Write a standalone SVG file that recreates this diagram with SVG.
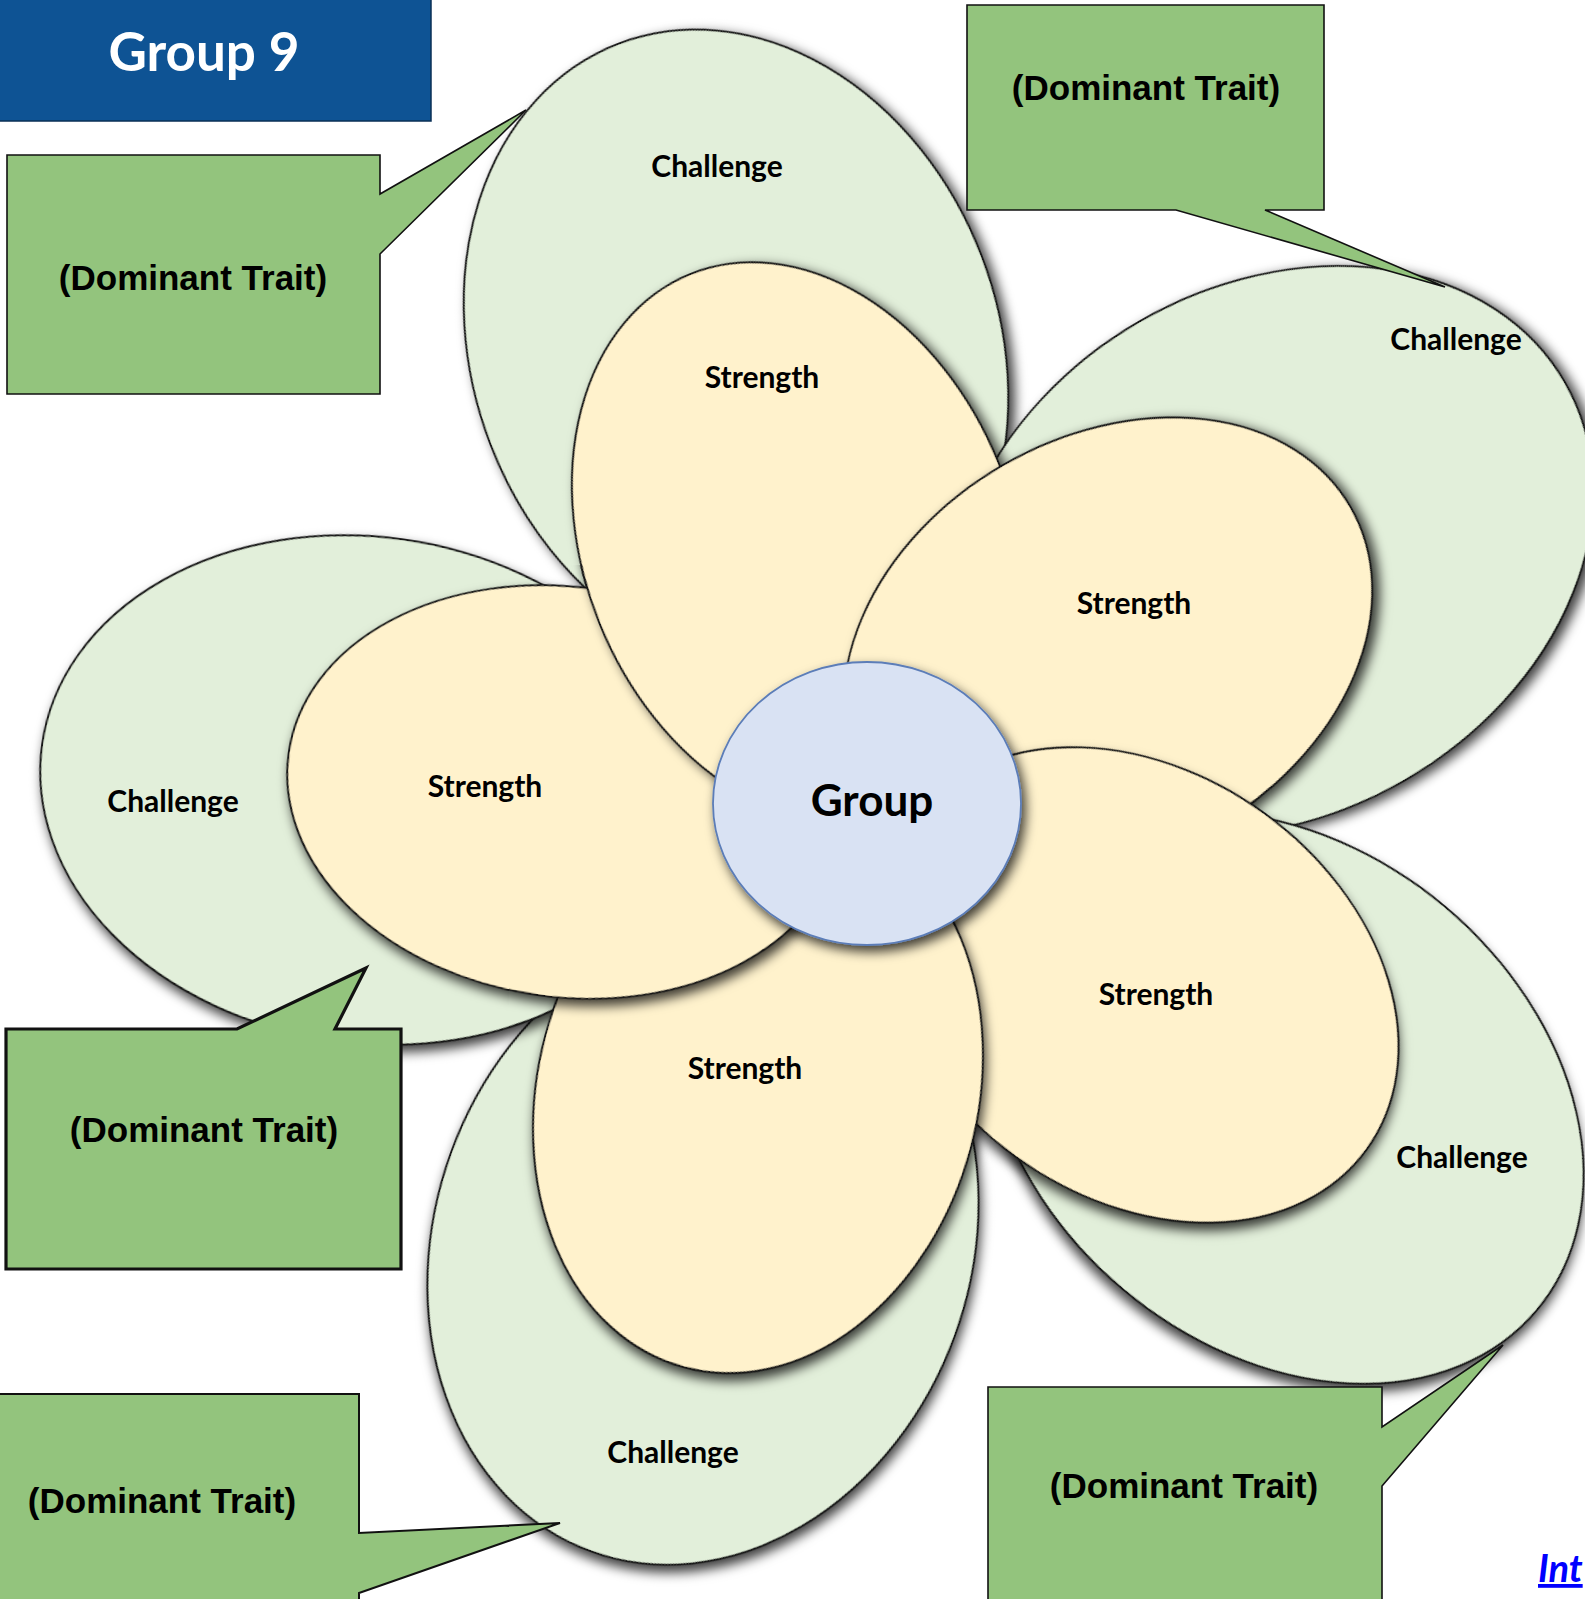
<svg xmlns="http://www.w3.org/2000/svg" width="1585" height="1599" viewBox="0 0 1585 1599">
<defs>
<filter id="sh" x="-25%" y="-25%" width="150%" height="150%">
<feDropShadow dx="4" dy="6" stdDeviation="6" flood-color="#000" flood-opacity="0.75"/>
</filter>
<clipPath id="p1clip"><rect x="545" y="565" width="260" height="235"/></clipPath>
<style>
.outer{fill:#E2EFDA;stroke:#151515;stroke-width:2;filter:url(#sh)}
.inner{fill:#FFF2CC;stroke:#151515;stroke-width:2;filter:url(#sh)}
.lbl{font-family:Lato,"Open Sans",sans-serif;font-weight:700;font-size:30px;text-anchor:middle;fill:#000}
.dt{font-family:"Liberation Sans",Arial,sans-serif;font-weight:700;font-size:35px;text-anchor:middle;fill:#000}
.co{fill:#93C47D;stroke:#111;stroke-width:1.6;stroke-linejoin:miter}
</style>
</defs>
<rect width="1585" height="1599" fill="#fff"/>

<g id="title">
<rect x="-2" y="-2" width="433" height="123" fill="#0E5394" stroke="#0a2f55" stroke-width="1.5"/>
<text x="204" y="71" font-family="Lato,'Open Sans',sans-serif" font-weight="700" font-size="53" fill="#fff" text-anchor="middle">Group 9</text>
</g>

<g id="outer-petals">
<g id="challenge-1"><ellipse class="outer" rx="263" ry="328" transform="translate(736,350) rotate(-21)"/><text class="lbl" x="717" y="177">Challenge</text></g>
<g id="challenge-2"><ellipse class="outer" rx="338" ry="265" transform="translate(1272,551) rotate(-30)"/><text class="lbl" x="1456" y="350">Challenge</text></g>
<g id="challenge-3"><ellipse class="outer" rx="330" ry="250" transform="translate(1284,1098) rotate(40)"/><text class="lbl" x="1462" y="1168">Challenge</text></g>
<g id="challenge-4"><ellipse class="outer" rx="268" ry="327" transform="translate(703,1244) rotate(20)"/><text class="lbl" x="673" y="1463">Challenge</text></g>
<g id="challenge-5"><ellipse class="outer" rx="329" ry="253" transform="translate(368,790) rotate(8)"/><text class="lbl" x="173" y="812">Challenge</text></g>
</g>

<g id="inner-petals">
<g id="strength-1"><ellipse class="inner" rx="215" ry="290" transform="translate(799,543) rotate(-22)"/><text class="lbl" x="762" y="388">Strength</text></g>
<g id="strength-2"><ellipse class="inner" rx="280" ry="210" transform="translate(1108,647) rotate(-30)"/><text class="lbl" x="1134" y="614">Strength</text></g>
<g id="strength-3"><ellipse class="inner" rx="280" ry="212" transform="translate(1140,985) rotate(36)"/><text class="lbl" x="1156" y="1005">Strength</text></g>
<g id="strength-4"><ellipse class="inner" rx="220" ry="285" transform="translate(758,1092) rotate(15)"/><text class="lbl" x="745" y="1079">Strength</text></g>
<g id="strength-5"><ellipse class="inner" rx="280" ry="205" transform="translate(566,792) rotate(8)"/><text class="lbl" x="485" y="797">Strength</text></g>
<g id="strength-1-overlap" clip-path="url(#p1clip)"><ellipse class="inner" rx="215" ry="290" transform="translate(799,543) rotate(-22)"/></g>
</g>

<g id="center">
<ellipse cx="867" cy="803.5" rx="154" ry="141.5" fill="#D9E2F3" stroke="#5B7DB8" stroke-width="1.8" filter="url(#sh)"/>
<text x="872" y="816" font-family="Lato,'Open Sans',sans-serif" font-weight="700" font-size="44" text-anchor="middle" fill="#000">Group</text>
</g>

<g id="callout-1"><path class="co" d="M7,155 H380 V194 L526,110 L380,254 V394 H7 Z"/><text class="dt" x="193" y="290">(Dominant Trait)</text></g>
<g id="callout-2"><path class="co" d="M967,5 H1324 V210 H1265 L1445,287 L1176,210 H967 Z"/><text class="dt" x="1146" y="100">(Dominant Trait)</text></g>
<g id="callout-3"><path class="co" style="stroke-width:3.2" d="M6,1029 H237 L366,968 L335,1029 H401 V1269 H6 Z"/><text class="dt" x="204" y="1142">(Dominant Trait)</text></g>
<g id="callout-4"><path class="co" style="stroke-width:2" d="M-3,1394 H359 V1533 L560,1523 L359,1593 V1610 H-3 Z"/><text class="dt" x="162" y="1513">(Dominant Trait)</text></g>
<g id="callout-5"><path class="co" d="M988,1387 H1382 V1427 L1503,1345 L1382,1486 V1610 H988 Z"/><text class="dt" x="1184" y="1498">(Dominant Trait)</text></g>

<g id="link">
<text x="1538" y="1582" font-family="Lato,'Open Sans',sans-serif" font-weight="700" font-style="italic" font-size="38" fill="#0000FF" text-decoration="underline">Int</text>
</g>
</svg>
